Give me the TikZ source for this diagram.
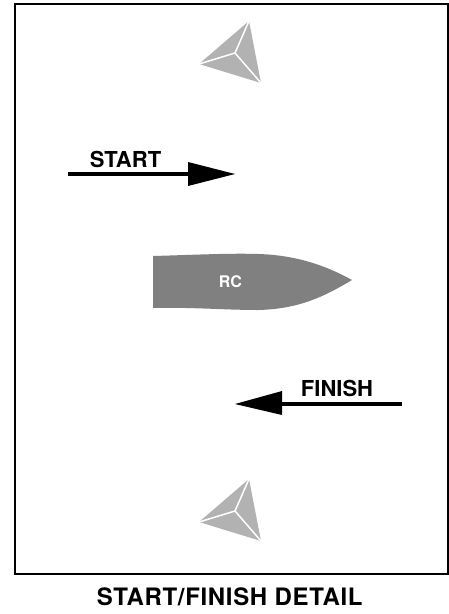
\documentclass[tikz,border=0pt]{standalone}
\usepackage{fontspec}
\setmainfont{TeX Gyre Heros}
\newfontfamily\titlefont[LetterSpace=2.8]{TeX Gyre Heros}
\definecolor{buoy}{gray}{0.70}
\definecolor{boat}{gray}{0.50}
\tikzset{
  x=1pt,y=-1pt,
  lbl/.style={font=\fontsize{22}{26}\selectfont\bfseries,text=black,inner sep=0pt,anchor=base},
  arrowline/.style={draw=black,line width=4pt},
  arrowhead/.style={fill=black,draw=none},
  facet/.style={fill=buoy,draw=none},
  seam/.style={draw=white,line width=1.5pt},
}
\newcommand{\buoymark}[3]{%
  \begin{scope}[shift={(#1,#2)}]
    \coordinate (#3a) at (14,-32);
    \coordinate (#3l) at (-36,11);
    \coordinate (#3r) at (26,30);
    \coordinate (#3c) at (0,0);
    \fill[facet] (#3a) -- (#3l) -- (#3r) -- cycle;
    \draw[seam] (#3c) -- (#3a);
    \draw[seam] (#3c) -- (#3l);
    \draw[seam] (#3c) -- (#3r);
  \end{scope}}
\begin{document}
\begin{tikzpicture}
\useasboundingbox (0,0) rectangle (448,614);
\fill[white] (0,0) rectangle (448,614);
\node[draw=black,line width=2pt,minimum width=433pt,minimum height=570pt,inner sep=0pt,anchor=north west] (frame) at (14,3) {};
\buoymark{235}{53}{top}
\buoymark{235}{511}{bot}
\coordinate (st) at (68,174);
\coordinate (sb) at (190,174);
\draw[arrowline] (st) -- (sb);
\fill[arrowhead] (188,162) -- (235,174) -- (188,186) -- cycle;
\node[lbl] (start) at (125.5,167) {START};
\coordinate (ft) at (402,404);
\coordinate (fb) at (280,404);
\draw[arrowline] (ft) -- (fb);
\fill[arrowhead] (282,391) -- (235,404) -- (282,415) -- cycle;
\node[lbl] (finish) at (337,396) {FINISH};
\fill[boat] (153,256) .. controls (190,255) and (230,253) .. (258,254)
  .. controls (295,255) and (325,265) .. (352,280)
  .. controls (325,296) and (300,309) .. (258,310)
  .. controls (225,310) and (190,307) .. (153,308) -- cycle;
\node[font=\fontsize{16}{18}\selectfont\bfseries,text=white,inner sep=0pt,anchor=base] (rc) at (230.5,287) {RC};
\node[font=\titlefont\fontsize{24}{28}\selectfont\bfseries,text=black,inner sep=0pt,anchor=base] (title) at (229.7,605.5) {START/FINISH DETAIL};
\end{tikzpicture}
\end{document}
